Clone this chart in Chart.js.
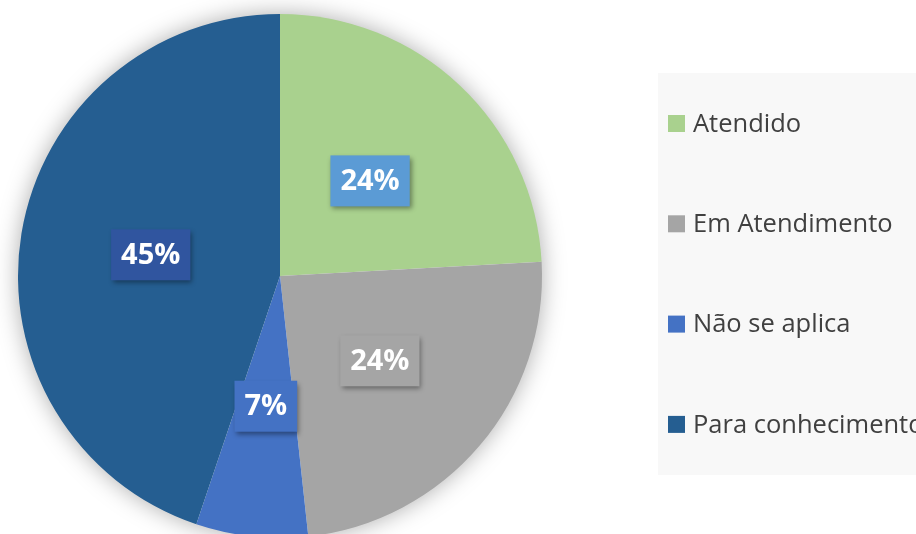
<!DOCTYPE html>
<html>
<head>
<meta charset="utf-8">
<script src="https://cdn.jsdelivr.net/npm/chart.js@4/dist/chart.umd.min.js"></script>
<style>
    html, body { margin: 0; padding: 0; overflow: hidden; background: #fff; }
    canvas { display: block; }
</style>
</head>
<body>
<canvas id="chart-status" width="916" height="560"></canvas>
<script>
// dados
const categorias = ["Atendido", "Em Atendimento", "Não se aplica", "Para conhecimento"];
const quantidades = [7, 7, 2, 13];
const coresFatias = ["#A9D18E", "#A5A5A5", "#4472C4", "#255E91"];
const coresRotulos = ["#5B9BD5", "#A5A5A5", "#4472C4", "#30559F"];

const fonte = "'Open Sans', 'DejaVu Sans', sans-serif";

// sombra suave em volta da pizza
const brilhoPizza = {
    id: "brilhoPizza",
    beforeDatasetsDraw: (chart) => {
        const arc = chart.getDatasetMeta(0).data[0];
        if (!arc) return;
        const ctx = chart.ctx;
        ctx.save();
        ctx.shadowColor = "rgba(0, 0, 0, 0.35)";
        ctx.shadowBlur = 24;
        ctx.fillStyle = "#fff";
        ctx.beginPath();
        ctx.arc(arc.x, arc.y, arc.outerRadius - 1, 0, Math.PI * 2);
        ctx.fill();
        ctx.restore();
    },
};

// rótulos de porcentagem com caixa
const rotulosPorcentagem = {
    id: "rotulosPorcentagem",
    afterDatasetsDraw: (chart) => {
        const ctx = chart.ctx;
        const valores = chart.data.datasets[0].data;
        const total = valores.reduce((a, b) => a + b, 0);
        chart.getDatasetMeta(0).data.forEach((arc, i) => {
            const pos = arc.tooltipPosition();
            const texto = Math.round((valores[i] / total) * 100) + "%";
            ctx.save();
            ctx.font = "bold 29px " + fonte;
            const largura = ctx.measureText(texto).width + 20;
            const altura = 51;
            ctx.shadowColor = "rgba(0, 0, 0, 0.4)";
            ctx.shadowBlur = 5;
            ctx.shadowOffsetX = 2;
            ctx.shadowOffsetY = 3;
            ctx.fillStyle = coresRotulos[i];
            ctx.fillRect(pos.x - largura / 2, pos.y - altura / 2, largura, altura);
            ctx.restore();
            ctx.save();
            ctx.font = "bold 29px " + fonte;
            ctx.fillStyle = "#fff";
            ctx.textAlign = "center";
            ctx.textBaseline = "middle";
            ctx.fillText(texto, pos.x, pos.y + 1);
            ctx.restore();
        });
    },
};

// legenda à direita
const legendaLateral = {
    id: "legendaLateral",
    afterDraw: (chart) => {
        const ctx = chart.ctx;
        ctx.save();
        ctx.fillStyle = "#F8F8F8";
        ctx.fillRect(658, 73, 258, 402);
        ctx.font = "25.5px " + fonte;
        ctx.textBaseline = "middle";
        chart.data.labels.forEach((label, i) => {
            const y = 123.5 + i * 100.3;
            ctx.fillStyle = chart.data.datasets[0].backgroundColor[i];
            ctx.fillRect(668, y - 8.5, 17, 17);
            ctx.fillStyle = "#404040";
            ctx.fillText(label, 693, y + 1);
        });
        ctx.restore();
    },
};

const chartStatus = new Chart(document.getElementById("chart-status"), {
    type: "pie",
    data: {
        labels: categorias,
        datasets: [
            {
                data: quantidades,
                backgroundColor: coresFatias,
                borderWidth: 0,
            },
        ],
    },
    options: {
        responsive: false,
        animation: false,
        layout: {
            padding: { left: 18, right: 374, top: 14, bottom: 22 },
        },
        plugins: {
            legend: { display: false },
            tooltip: { enabled: false },
        },
    },
    plugins: [brilhoPizza, rotulosPorcentagem, legendaLateral],
});
</script>
</body>
</html>
